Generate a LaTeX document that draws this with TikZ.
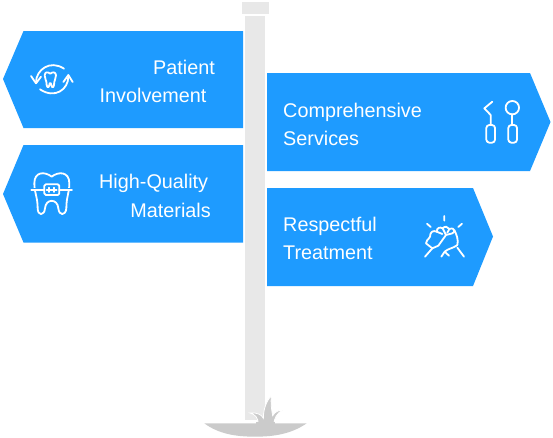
\documentclass[tikz,border=0pt]{standalone}
\usepackage{fontspec}
\setmainfont{Liberation Sans}
\definecolor{signblue}{HTML}{1E9BFF}
\definecolor{postgray}{HTML}{E8E8E8}
\definecolor{groundgray}{HTML}{CBCBCB}
\tikzset{
  signshape/.style={fill=signblue,draw=none},
  signtext/.style={text=white,inner sep=0pt,font=\fontsize{19.8}{24}\selectfont},
  iconline/.style={draw=white,line width=1.8pt,line cap=round,line join=round,fill=none},
  zoomgrid/.style={x=0.33333pt,y=-0.33333pt}
}
\begin{document}
\begin{tikzpicture}[x=1pt,y=-1pt]
\useasboundingbox (0,0) rectangle (553,437);
% post
\fill[postgray] (245.3,16) rectangle (265,420);
\fill[postgray] (242,2) rectangle (268.5,14);
% ground and grass
\begin{scope}[shift={(195,385)},zoomgrid]
\fill[groundgray] (28,115) -- (335,115) .. controls (290,146) and (240,155) .. (180,155) .. controls (120,155) and (70,146) .. (28,115) -- cycle;
\fill[groundgray,draw=white,line width=0.8pt] (190,118) .. controls (190,98) and (180,88) .. (165,84) .. controls (185,82) and (200,88) .. (205,100) .. controls (205,70) and (215,48) .. (230,30) .. controls (226,55) and (230,75) .. (233,92) .. controls (240,80) and (250,76) .. (263,75) .. controls (245,85) and (238,100) .. (236,118) -- cycle;
\fill[groundgray] (182,112) rectangle (240,120);
\end{scope}
% signs
\fill[signshape] (3,79) -- (23.5,31) -- (243,31) -- (243,128) -- (23.5,128) -- cycle;
\fill[signshape] (3,194) -- (23.5,145) -- (243,145) -- (243,242.5) -- (23.5,242.5) -- cycle;
\fill[signshape] (267,73) -- (530,73) -- (550.5,122) -- (530,171) -- (267,171) -- cycle;
\fill[signshape] (267,188) -- (473,188) -- (493,236.5) -- (473,286) -- (267,286) -- cycle;
% text
\node[signtext,anchor=base east] (patient) at (215,74.2) {Patient};
\node[signtext,anchor=base west] (involvement) at (99.5,102.7) {Involvement};
\node[signtext,anchor=base west] (highquality) at (99,188.7) {High-Quality};
\node[signtext,anchor=base east] (materials) at (211,217.2) {Materials};
\node[signtext,anchor=base west] (comprehensive) at (283,117.2) {Comprehensive};
\node[signtext,anchor=base west] (services) at (283,145.7) {Services};
\node[signtext,anchor=base west] (respectful) at (283,231.7) {Respectful};
\node[signtext,anchor=base west] (treatment) at (283,259.7) {Treatment};
% icon 1
\begin{scope}[shift={(0,20)},zoomgrid]
\draw[iconline] (108,187) .. controls (108,150) and (150,118) .. (192,146);
\draw[iconline] (93,168) -- (108,190) -- (123,170);
\draw[iconline] (205,170) .. controls (205,208) and (165,238) .. (120,208);
\draw[iconline] (190,186) -- (205,165) -- (218,186);
\draw[iconline] (151,161) .. controls (142,155) and (135,155) .. (134,166) .. controls (134,178) and (140,180) .. (140,195) .. controls (141,204) and (147,204) .. (148,195) .. controls (148,187) and (153,187) .. (154,195) .. controls (155,204) and (161,204) .. (162,195) .. controls (162,180) and (168,178) .. (168,166) .. controls (167,155) and (158,155) .. (151,161);
\end{scope}
% icon 2
\begin{scope}[shift={(0,140)},zoomgrid]
\draw[iconline] (155,110) .. controls (135,94) and (103,94) .. (103,130) .. controls (103,160) and (113,170) .. (113,205) .. controls (113,228) and (133,228) .. (135,205) .. controls (137,175) and (173,175) .. (175,205) .. controls (177,228) and (197,228) .. (199,205) .. controls (199,170) and (208,160) .. (208,130) .. controls (208,94) and (175,94) .. (155,110);
\fill[signblue,rounded corners=2pt] (130,130) rectangle (181,168);
\fill[signblue] (95,145) rectangle (215,153);
\draw[iconline] (94,149) -- (133,149) (178,149) -- (216,149);
\draw[iconline,rounded corners=1.5pt] (133,133) rectangle (178,165);
\draw[iconline] (147,143) -- (147,156) (162,143) -- (162,156) (140,149) -- (170,149);
\end{scope}
% icon 3
\begin{scope}[shift={(440,70)},zoomgrid]
\draw[iconline] (157,95) -- (133,115) -- (152,135) -- (152,165);
\draw[iconline,rounded corners=3pt] (139,165) rectangle (165,218);
\draw[iconline] (217,113) circle[radius=6.7pt];
\draw[iconline] (217,133) -- (217,165);
\draw[iconline,rounded corners=3pt] (205,165) rectangle (231,218);
\end{scope}
% icon 4
\begin{scope}[shift={(400,185)},zoomgrid]
\draw[iconline] (133,93) -- (133,107) (81,116) -- (92,126) (186,116) -- (175,126);
\draw[iconline] (75,215) -- (97,190) (192,215) -- (172,188) (124,215) -- (134,200) .. controls (145,190) and (160,190) .. (172,180) .. controls (176,165) and (170,150) .. (163,135);
\draw[iconline] (97,190) -- (78,175) .. controls (76,168) and (85,165) .. (90,155) .. controls (90,140) and (100,135) .. (110,140) .. controls (110,128) and (120,125) .. (128,130) .. controls (135,122) and (143,125) .. (148,132) .. controls (158,128) and (164,132) .. (163,140) .. controls (155,150) and (145,145) .. (138,150) -- (115,182) -- (97,190);
\draw[iconline] (110,140) -- (127,147) (128,130) -- (138,150) (148,132) -- (142,143) (134,200) -- (147,212);
\end{scope}
\end{tikzpicture}
\end{document}
